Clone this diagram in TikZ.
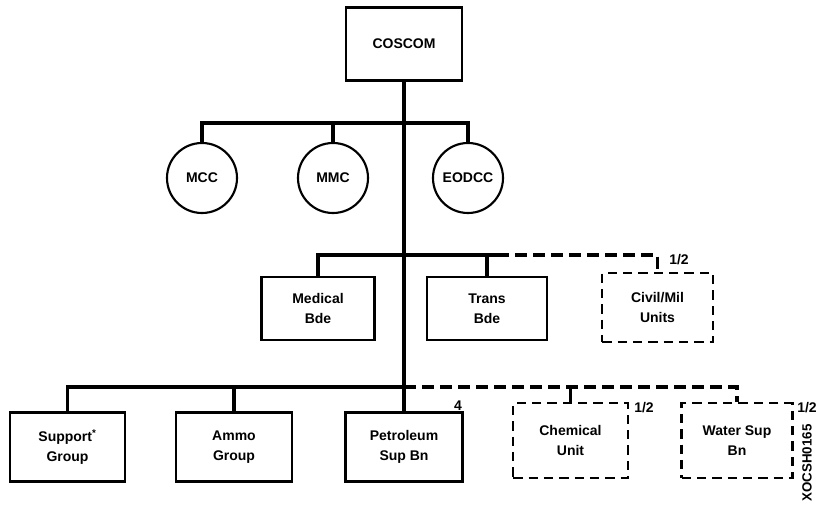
\documentclass[tikz,border=0pt]{standalone}
\usepackage{fontspec}
\setmainfont{Liberation Sans}
\begin{document}
\begin{tikzpicture}[x=0.75pt,y=-0.75pt,
  conn/.style={line width=2.4pt},
  dconn/.style={line width=2.4pt,dash pattern=on 9pt off 4.5pt},
  unit/.style={draw,line width=1.8pt,rectangle,align=center,inner sep=0pt,
     font=\bfseries\fontsize{10.5}{15}\selectfont},
  dunit/.style={unit,dash pattern=on 7pt off 4.5pt},
  cell/.style={draw,line width=1.6pt,circle,inner sep=0pt,minimum size=52.5pt,
     font=\bfseries\fontsize{10.5}{12}\selectfont},
  note/.style={font=\bfseries\fontsize{10.5}{12}\selectfont,inner sep=0pt}]
\useasboundingbox (0,0) rectangle (818,514);
% nodes
\node[unit,minimum width=87pt,minimum height=55pt] (coscom) at (404,44) {COSCOM};
\node[cell] (mcc) at (202,178) {MCC};
\node[cell] (mmc) at (333,178) {MMC};
\node[cell] (eodcc) at (468,178) {EODCC};
\node[unit,minimum width=85pt,minimum height=47pt] (med) at (318,308.5) {Medical\\Bde};
\node[unit,minimum width=90pt,minimum height=47pt] (trans) at (487,308.5) {Trans\\Bde};
\node[dunit,minimum width=83pt,minimum height=52pt] (civil) at (657.5,307.5) {Civil/Mil\\Units};
\node[unit,minimum width=86pt,minimum height=52pt] (sup) at (67.5,447) {Support\textsuperscript{*}\\Group};
\node[unit,minimum width=87pt,minimum height=52pt] (ammo) at (234,447) {Ammo\\Group};
\node[unit,minimum width=88pt,minimum height=52pt] (pet) at (404,447) {Petroleum\\Sup Bn};
\node[dunit,minimum width=86pt,minimum height=56pt] (chem) at (570.5,440.5) {Chemical\\Unit};
\node[dunit,minimum width=83pt,minimum height=56pt] (water) at (737,440.5) {Water Sup\\Bn};
% labels
\node[note] (l1) at (679,260) {1/2};
\node[note] (l4) at (458,406) {4};
\node[note] (l2) at (644,408) {1/2};
\node[note] (l3) at (807,408) {1/2};
\node[font=\bfseries\fontsize{10}{11}\selectfont,inner sep=0pt,rotate=90] (code) at (807,463) {XOCSH0165};
% bus coordinates
\coordinate (cbus) at (404,123);
\coordinate (mbus) at (404,255);
\coordinate (mdash) at (497,255);
\coordinate (bbus) at (404,387);
% connectors
\draw[conn] (coscom.south) -- (pet.north);
\draw[conn] (mcc.north) |- (eodcc.north |- cbus) -- (eodcc.north);
\draw[conn] (mmc.north) -- (mmc.north |- cbus);
\draw[conn] (med.north) |- (mdash);
\draw[conn] (trans.north) -- (trans.north |- mbus);
\draw[dconn] (mdash) -- (civil.north |- mbus) -- (civil.north);
\draw[conn] (sup.north) |- (bbus);
\draw[conn] (ammo.north) -- (ammo.north |- bbus);
\draw[dconn] (bbus) -- (water.north |- bbus) -- (water.north);
\draw[conn] (chem.north) -- (chem.north |- bbus);
\end{tikzpicture}
\end{document}
